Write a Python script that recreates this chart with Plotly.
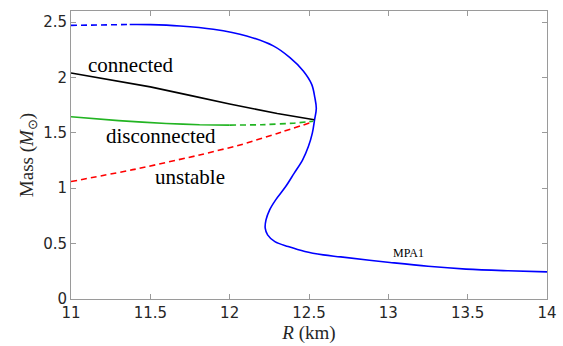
import plotly.graph_objects as go

# MPA1 mass-radius curve
mpa1_dash_R = [11.0, 11.1, 11.2, 11.3, 11.37]
mpa1_dash_M = [2.470, 2.473, 2.475, 2.477, 2.478]
mpa1_R = [11.37, 11.5, 11.687, 11.897, 12.107, 12.275, 12.38, 12.464, 12.517, 12.537, 12.546, 12.535,
          12.521, 12.496, 12.46, 12.407, 12.353, 12.29, 12.252, 12.229, 12.224, 12.239, 12.285,
          12.369, 12.474, 12.59, 12.70, 13.01, 13.25, 13.49, 13.75, 14.0]
mpa1_M = [2.478, 2.477, 2.465, 2.435, 2.375, 2.285, 2.179, 2.059, 1.938, 1.817, 1.72, 1.618,
          1.498, 1.377, 1.257, 1.137, 1.015, 0.895, 0.805, 0.714, 0.639, 0.579, 0.518,
          0.473, 0.428, 0.398, 0.38, 0.33, 0.295, 0.27, 0.255, 0.245]

conn_R = [11.0, 11.5, 12.0, 12.3, 12.533]
conn_M = [2.04, 1.915, 1.76, 1.675, 1.618]

disc_R = [11.0, 11.3, 11.6, 11.81, 12.0]
disc_M = [1.645, 1.61, 1.585, 1.573, 1.57]
disc_dash_R = [12.0, 12.2, 12.4, 12.527]
disc_dash_M = [1.57, 1.573, 1.587, 1.605]

unst_R = [11.0, 11.4, 11.81, 12.065, 12.3, 12.527]
unst_M = [1.06, 1.17, 1.30, 1.39, 1.495, 1.60]

xticks = [11, 11.5, 12, 12.5, 13, 13.5, 14]
yticks = [0, 0.5, 1, 1.5, 2, 2.5]

fig = go.Figure()
lw = 1.6
dsh = "6px,4px"
fig.add_trace(go.Scatter(x=mpa1_dash_R, y=mpa1_dash_M, mode="lines",
                         line=dict(color="#0000ff", width=lw, dash=dsh)))
fig.add_trace(go.Scatter(x=mpa1_R, y=mpa1_M, mode="lines",
                         line=dict(color="#0000ff", width=lw, shape="spline", smoothing=1.0)))
fig.add_trace(go.Scatter(x=conn_R, y=conn_M, mode="lines",
                         line=dict(color="#000000", width=lw, shape="spline", smoothing=0.3)))
fig.add_trace(go.Scatter(x=disc_R, y=disc_M, mode="lines",
                         line=dict(color="#22b422", width=lw, shape="spline", smoothing=0.3)))
fig.add_trace(go.Scatter(x=disc_dash_R, y=disc_dash_M, mode="lines",
                         line=dict(color="#22b422", width=lw, dash=dsh, shape="spline", smoothing=0.3)))
fig.add_trace(go.Scatter(x=unst_R, y=unst_M, mode="lines",
                         line=dict(color="#ff0000", width=lw, dash=dsh, shape="spline", smoothing=0.3)))

serif = "Liberation Serif"
labels = [("connected", 11.378, 2.116, 21), ("disconnected", 11.567, 1.474, 21),
          ("unstable", 11.747, 1.103, 21), ("MPA1", 13.124, 0.416, 12)]
for txt, x, y, s in labels:
    fig.add_annotation(x=x, y=y, text=txt, showarrow=False,
                       font=dict(family=serif, size=s, color="#000000"))

axis_common = dict(showgrid=False, zeroline=False, showline=True, linecolor="#9a9a9a", linewidth=1,
                   mirror="ticks", ticks="inside", ticklen=5, tickcolor="#9a9a9a", automargin=False,
                   tickfont=dict(family="DejaVu Sans", size=15, color="#262626"))
fig.update_xaxes(range=[11, 14], tickvals=xticks, ticktext=[f"{v:g}" for v in xticks],
                 title=dict(text="<i>R</i> (km)", font=dict(family=serif, size=19, color="#262626"),
                            standoff=0), **axis_common)
fig.update_yaxes(range=[0, 2.6], tickvals=yticks, ticktext=[f"{v:g}" for v in yticks],
                 title=dict(text="Mass (<i>M</i><sub>⊙</sub>)", font=dict(family=serif, size=19, color="#262626"),
                            standoff=4), **axis_common)
fig.update_layout(width=563, height=346, margin=dict(l=71, r=16, t=11, b=47),
                  plot_bgcolor="white", paper_bgcolor="white", showlegend=False)
fig.write_html("out.html", config={"displayModeBar": False},
               post_script="document.body.style.margin='0';document.body.style.overflow='hidden';")
